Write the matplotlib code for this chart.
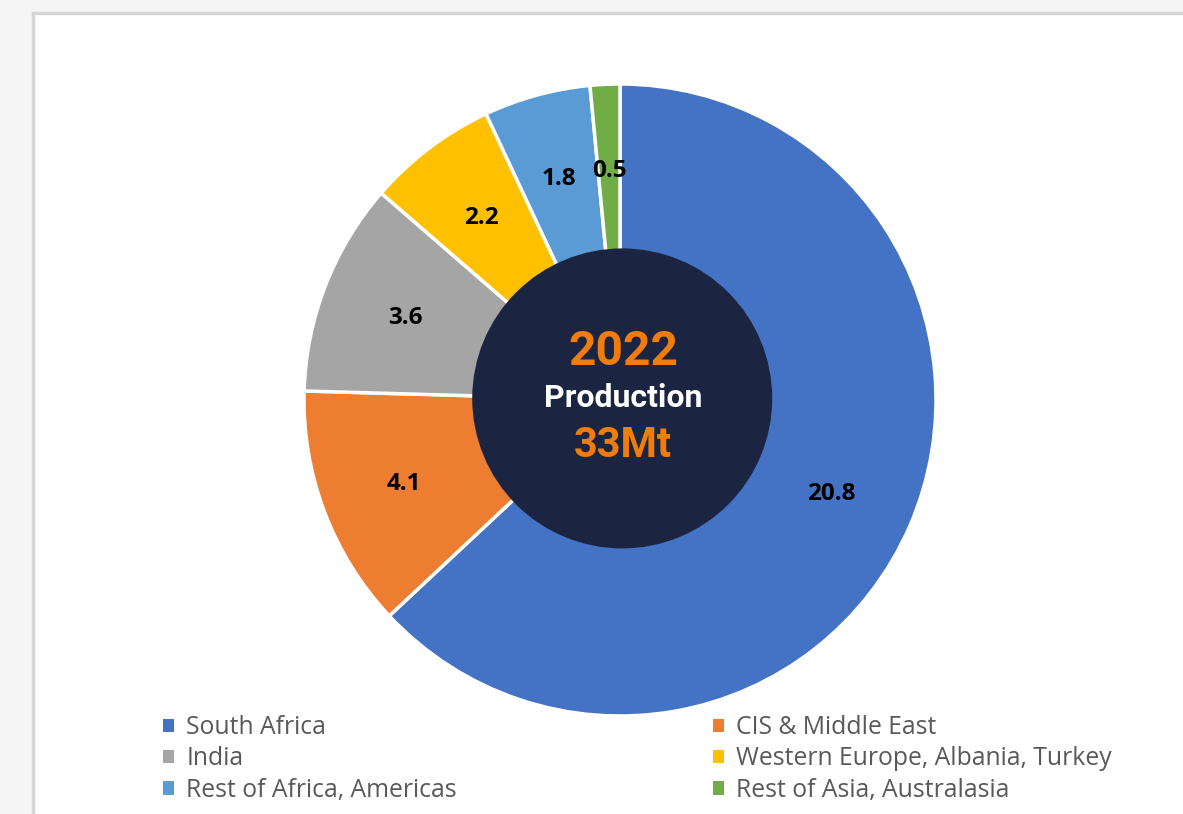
import matplotlib
matplotlib.use("Agg")
import matplotlib.pyplot as plt
from matplotlib.patches import Patch, Rectangle, Circle
import numpy as np

regions = ["South Africa", "CIS & Middle East", "India",
           "Western Europe, Albania, Turkey", "Rest of Africa, Americas",
           "Rest of Asia, Australasia"]
values = [20.8, 4.1, 3.6, 2.2, 1.8, 0.5]
colors = ["#4472C4", "#ED7D31", "#A5A5A5", "#FFC000", "#5B9BD5", "#70AD47"]
year_label = "2022"
mid_label = "Production"
total_label = "33Mt"

W, H = 1183, 814
fig = plt.figure(figsize=(W / 100, H / 100), dpi=100)
fig.patch.set_facecolor("#F5F5F5")

# white card with grey border
card = Rectangle((33 / W, -0.1), 1.2, (H - 13) / H + 0.1, transform=fig.transFigure,
                 facecolor="white", edgecolor="#D6D6D6", linewidth=2.5, zorder=-10)
fig.patches.append(card)

cx, cy, R = 620, 400, 316
ax = fig.add_axes([(cx - R) / W, (H - cy - R) / H, 2 * R / W, 2 * R / H])
ax.set_zorder(1)
ax.patch.set_alpha(0)
wedges, texts = ax.pie(values, colors=colors, startangle=90, counterclock=False,
                       radius=1.0, wedgeprops=dict(edgecolor="white", linewidth=2.5))
total = sum(values)
ang = 90.0
for v, w in zip(values, wedges):
    mid = ang - v / total * 360 / 2
    ang -= v / total * 360
    r = 0.73
    ax.text(r * np.cos(np.radians(mid)), r * np.sin(np.radians(mid)) - 0.006, f"{v:.1f}",
            ha="center", va="center", fontsize=17.5, fontweight="bold",
            family="Open Sans", color="black")
ax.add_patch(Circle((0.007, 0.005), 150 / R, facecolor="#1B2440", edgecolor="none", zorder=5))
ax.text(0.01, 0.111, year_label, ha="center", va="baseline", fontsize=34.5, fontweight="bold",
        family="Roboto", color="#F07C0C", zorder=6)
ax.text(0.01, -0.022, mid_label, ha="center", va="baseline", fontsize=23, fontweight="bold",
        family="Roboto", color="white", zorder=6)
ax.text(0.01, -0.180, total_label, ha="center", va="baseline", fontsize=30, fontweight="bold",
        family="Roboto", color="#F07C0C", zorder=6)
ax.set_xlim(-1, 1)
ax.set_ylim(-1, 1)
ax.set_aspect("equal")
ax.axis("off")

handles = [Patch(facecolor=c, edgecolor="none") for c in colors]
common = dict(frameon=False, handlelength=0.45, handleheight=0.45, handletextpad=0.5,
              labelspacing=0.26, borderaxespad=0, borderpad=0,
              prop=dict(family="Open Sans", size=17.8), labelcolor="#595959")
l1 = fig.legend([handles[i] for i in (0, 2, 4)], [regions[i] for i in (0, 2, 4)],
                loc="upper left", bbox_to_anchor=(163 / W, 1 - 715 / H), **common)
l2 = fig.legend([handles[i] for i in (1, 3, 5)], [regions[i] for i in (1, 3, 5)],
                loc="upper left", bbox_to_anchor=(713 / W, 1 - 715 / H), **common)

fig.savefig("out.png", dpi=100, facecolor=fig.get_facecolor())
